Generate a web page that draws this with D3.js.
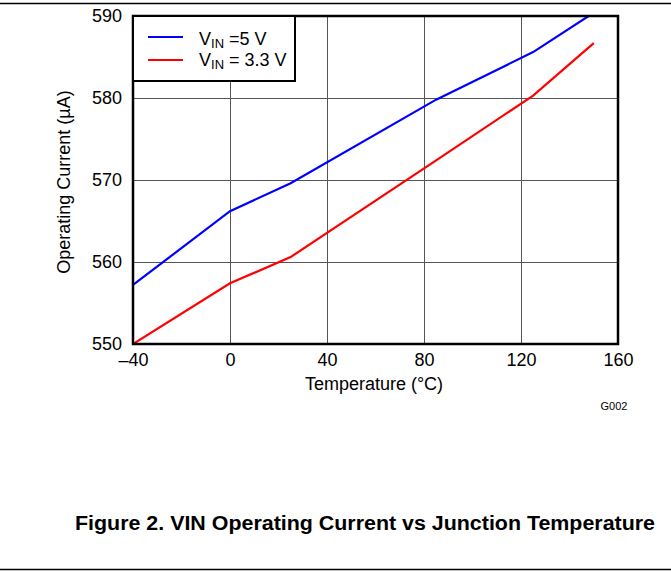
<!DOCTYPE html>
<html><head><meta charset="utf-8">
<script src="https://cdn.jsdelivr.net/npm/d3@7"></script>
<style>body{margin:0;background:#fff}svg{display:block}text{font-family:"Liberation Sans",Arial,sans-serif}</style>
</head><body><svg id="c" width="671" height="571"></svg>
<script>
const temps5 = [-40, 0, 25, 85, 125, 150];
const vin5 = [557.2, 566.2, 569.6, 579.8, 585.6, 590.4];
const temps33 = [-40, 0, 25, 85, 125, 150];
const vin33 = [550.0, 557.4, 560.6, 572.4, 580.3, 586.7];
const xTicks = [-40, 0, 40, 80, 120, 160];
const yTicks = [550, 560, 570, 580, 590];
const seriesNames = [" =5 V", " = 3.3 V"];
const seriesColors = ["#0000ff", "#ff0000"];

const svg = d3.select("#c");
const L = 133, R = 618, T = 16, B = 344;
const x = d3.scaleLinear().domain([-40, 160]).range([L, R]);
const y = d3.scaleLinear().domain([550, 590]).range([B, T]);
const FF = "Liberation Sans, Arial, sans-serif";

// page rules
svg.append("line").attr("x1",0).attr("x2",671).attr("y1",3.5).attr("y2",3.5).attr("stroke","#000").attr("stroke-width",1.5);
svg.append("line").attr("x1",0).attr("x2",671).attr("y1",569.5).attr("y2",569.5).attr("stroke","#000").attr("stroke-width",1.5);

// grid
const g = svg.append("g");
g.selectAll(".vg").data(xTicks.slice(1,-1)).enter().append("line")
 .attr("x1",d=>Math.round(x(d))+0.5).attr("x2",d=>Math.round(x(d))+0.5).attr("y1",T).attr("y2",B)
 .attr("stroke","#555").attr("stroke-width",1);
g.selectAll(".hg").data(yTicks.slice(1,-1)).enter().append("line")
 .attr("y1",d=>Math.round(y(d))+0.5).attr("y2",d=>Math.round(y(d))+0.5).attr("x1",L).attr("x2",R)
 .attr("stroke","#555").attr("stroke-width",1);

// lines
svg.append("clipPath").attr("id","pc").append("rect").attr("x",L).attr("y",T).attr("width",R-L).attr("height",B-T);
const line = d3.line().x(d=>x(d[0])).y(d=>y(d[1]));
const data = [d3.zip(temps5, vin5), d3.zip(temps33, vin33)];
svg.append("g").attr("clip-path","url(#pc)").selectAll("path").data(data).enter().append("path")
 .attr("d", line).attr("fill","none").attr("stroke",(d,i)=>seriesColors[i]).attr("stroke-width",2.2);

// frame
svg.append("rect").attr("x",L).attr("y",T).attr("width",R-L).attr("height",B-T).attr("fill","none").attr("stroke","#000").attr("stroke-width",2.5);

// axes
const xa = svg.append("g").attr("transform",`translate(0,${B})`).call(d3.axisBottom(x).tickValues(xTicks).tickSize(0).tickPadding(9).tickFormat(d=>d<0?"\u2013"+Math.abs(d):d));
xa.select(".domain").remove();
xa.selectAll("text").attr("font-size",18).attr("font-family",FF).attr("fill","#000");
const ya = svg.append("g").attr("transform",`translate(${L},0)`).call(d3.axisLeft(y).tickValues(yTicks).tickSize(0).tickPadding(11));
ya.select(".domain").remove();
ya.selectAll("text").attr("font-size",18).attr("font-family",FF).attr("fill","#000").attr("dy","0.28em");

svg.append("text").attr("x",374).attr("y",390).attr("text-anchor","middle").attr("font-size",18).text("Temperature (°C)");
svg.append("text").attr("transform","translate(70,182) rotate(-90)").attr("text-anchor","middle").attr("font-size",18).text("Operating Current (µA)");
svg.append("text").attr("x",614).attr("y",410).attr("text-anchor","middle").attr("font-size",11).text("G002");

// legend
svg.append("rect").attr("x",L).attr("y",T).attr("width",162).attr("height",65).attr("fill","#fff").attr("stroke","#000").attr("stroke-width",2);
const lg = svg.append("g").selectAll("g").data(seriesNames).enter().append("g")
 .attr("transform",(d,i)=>`translate(0,${37+i*23})`);
lg.append("line").attr("x1",148).attr("x2",183).attr("y1",0).attr("y2",0).attr("stroke",(d,i)=>seriesColors[i]).attr("stroke-width",2.2);
const lt = lg.append("text").attr("x",199).attr("y",(d,i)=>i?6:8).attr("font-size",18);
lt.append("tspan").text("V");
lt.append("tspan").attr("font-size",13).attr("dy",3).text("IN");
lt.append("tspan").attr("dy",-3).text(d=>d);

// caption
svg.append("text").attr("x",365).attr("y",530).attr("text-anchor","middle").attr("font-size",20).attr("font-weight","bold")
 .attr("textLength",580).attr("lengthAdjust","spacingAndGlyphs").text("Figure 2. VIN Operating Current vs Junction Temperature");
</script></body></html>
